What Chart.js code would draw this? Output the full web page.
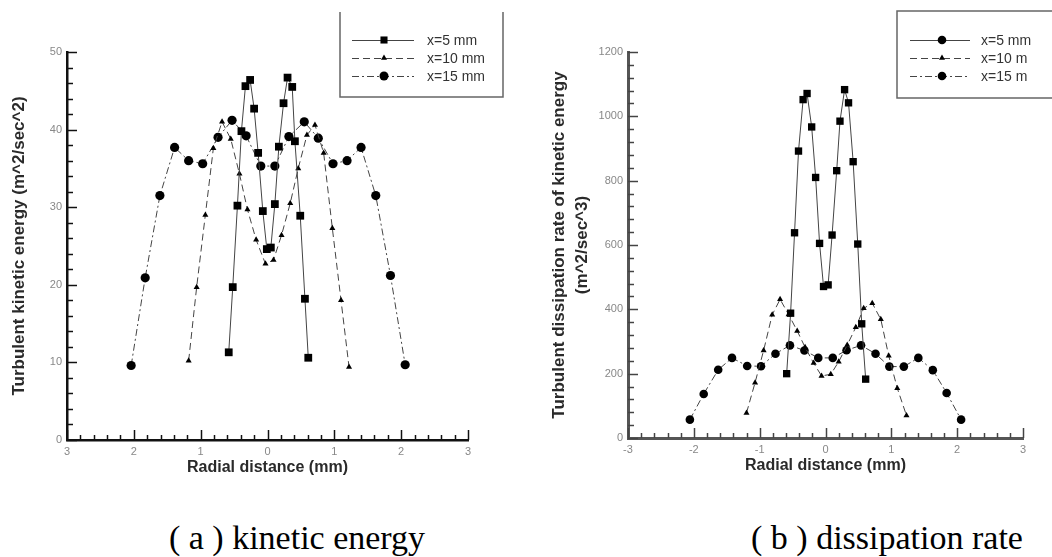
<!DOCTYPE html>
<html>
<head>
<meta charset="utf-8">
<script src="https://cdn.jsdelivr.net/npm/chart.js@4.4.1/dist/chart.umd.min.js"></script>
<style>
  body { margin: 0; background: #fff; }
  #page { position: relative; width: 1052px; height: 557px; overflow: hidden; }
  .box { position: absolute; top: 0; width: 526px; height: 500px; }
  .caption {
    position: absolute; top: 518px; line-height: 40px; white-space: nowrap;
    font-family: "Liberation Serif", "Times New Roman", serif; font-size: 34px; color: #000;
    transform: translateX(-50%);
  }
</style>
</head>
<body>
<div id="page">
  <div class="box" style="left:0"><canvas id="ke" width="526" height="500"></canvas></div>
  <div class="box" style="left:526px"><canvas id="dr" width="526" height="500"></canvas></div>
  <div class="caption" style="left:297px">( a ) kinetic energy</div>
  <div class="caption" style="left:887px">( b ) dissipation rate</div>
</div>
<script>
// (a) turbulent kinetic energy, m^2/sec^2
const keX5 = [-0.58, -0.52, -0.45, -0.39, -0.33, -0.26, -0.2, -0.14, -0.07, -0.01, 0.05, 0.11, 0.17, 0.24, 0.3, 0.37, 0.41, 0.49, 0.56, 0.61];
const keY5 = [11.3, 19.7, 30.2, 39.8, 45.6, 46.4, 42.7, 37.0, 29.5, 24.6, 24.8, 30.4, 37.8, 43.4, 46.7, 45.5, 38.5, 28.9, 18.2, 10.6];
const keX10 = [-1.18, -1.06, -0.93, -0.81, -0.68, -0.55, -0.42, -0.3, -0.17, -0.03, 0.09, 0.21, 0.34, 0.46, 0.59, 0.71, 0.84, 0.97, 1.1, 1.22];
const keY10 = [10.2, 19.7, 29.0, 37.6, 41.0, 38.8, 34.3, 29.7, 25.8, 22.7, 23.2, 26.4, 30.5, 35.0, 39.3, 40.6, 37.0, 27.3, 18.0, 9.4];
const keX15 = [-2.04, -1.83, -1.61, -1.39, -1.18, -0.97, -0.74, -0.53, -0.32, -0.1, 0.11, 0.32, 0.55, 0.76, 0.98, 1.19, 1.4, 1.62, 1.84, 2.06];
const keY15 = [9.6, 20.9, 31.5, 37.7, 36.0, 35.6, 39.0, 41.2, 39.2, 35.3, 35.3, 39.1, 41.0, 38.9, 35.6, 36.0, 37.7, 31.5, 21.2, 9.7];
const keXTicks = ['3', '2', '1', '0', '1', '2', '3'];
const keYTicks = ['0', '10', '20', '30', '40', '50'];
const keLegend = ['x=5 mm', 'x=10 mm', 'x=15 mm'];

// (b) dissipation rate, m^2/sec^3
const drX5 = [-0.59, -0.53, -0.47, -0.41, -0.34, -0.28, -0.21, -0.15, -0.09, -0.03, 0.04, 0.1, 0.17, 0.22, 0.29, 0.35, 0.42, 0.49, 0.55, 0.61];
const drY5 = [200, 388, 638, 892, 1052, 1071, 967, 810, 605, 471, 476, 631, 831, 985, 1083, 1042, 859, 603, 355, 183];
const drX10 = [-1.2, -1.07, -0.94, -0.81, -0.69, -0.56, -0.43, -0.31, -0.18, -0.06, 0.08, 0.2, 0.33, 0.46, 0.58, 0.71, 0.84, 0.96, 1.09, 1.23];
const drY10 = [78, 172, 272, 383, 431, 384, 333, 282, 233, 193, 198, 237, 289, 344, 403, 419, 369, 256, 155, 70];
const drX15 = [-2.06, -1.85, -1.63, -1.42, -1.19, -0.98, -0.76, -0.54, -0.32, -0.11, 0.11, 0.32, 0.54, 0.76, 0.97, 1.19, 1.41, 1.63, 1.84, 2.06];
const drY15 = [57, 137, 212, 249, 224, 223, 262, 288, 272, 249, 249, 273, 288, 262, 222, 222, 249, 211, 140, 57];
const drXTicks = ['-3', '-2', '-1', '0', '1', '2', '3'];
const drYTicks = ['0', '200', '400', '600', '800', '1000', '1200'];
const drLegend = ['x=5 mm', 'x=10 m', 'x=15 m'];

const pts = (xs, ys) => xs.map((x, i) => ({ x: x, y: ys[i] }));

const LINE = '#444';
const DASH10 = [7, 4];
const DASH15 = [7, 3, 2, 3];

// axis ticks point into the plot, so draw them from the scales ourselves
const inwardTicks = {
  id: 'inwardTicks',
  beforeDatasetsDraw(chart, args, o) {
    const { ctx, chartArea, scales: { x, y } } = chart;
    ctx.save();
    ctx.strokeStyle = o.color;
    ctx.lineWidth = 1.5;
    for (let i = 0; x.min + i * o.xMinor <= x.max + 1e-9; i++) {
      const v = x.min + i * o.xMinor;
      const px = Math.round(x.getPixelForValue(v)) + 0.5;
      const len = i % o.xEvery === 0 ? 10 : 5;
      ctx.beginPath();
      ctx.moveTo(px, chartArea.bottom);
      ctx.lineTo(px, chartArea.bottom - len);
      ctx.stroke();
    }
    for (let i = 0; y.min + i * o.yMinor <= y.max + 1e-9; i++) {
      const v = y.min + i * o.yMinor;
      const py = Math.round(y.getPixelForValue(v)) + 0.5;
      const len = i % o.yEvery === 0 ? 10 : 6;
      ctx.beginPath();
      ctx.moveTo(chartArea.left, py);
      ctx.lineTo(chartArea.left + len, py);
      ctx.stroke();
    }
    ctx.restore();
  }
};

function marker(ctx, style, x, y, r) {
  ctx.beginPath();
  if (style === 'rect') {
    const s = r * Math.SQRT1_2;
    ctx.rect(x - s, y - s, 2 * s, 2 * s);
  } else if (style === 'triangle') {
    ctx.moveTo(x, y - r);
    ctx.lineTo(x + r * 0.866, y + r * 0.5);
    ctx.lineTo(x - r * 0.866, y + r * 0.5);
    ctx.closePath();
  } else {
    ctx.arc(x, y, r, 0, Math.PI * 2);
  }
  ctx.fill();
}

// legend box sitting above the top right corner of the plot
const boxLegend = {
  id: 'boxLegend',
  afterDraw(chart, args, o) {
    const ctx = chart.ctx;
    ctx.save();
    ctx.strokeStyle = '#666';
    ctx.lineWidth = 1.5;
    ctx.beginPath();
    if (o.open) {
      ctx.moveTo(o.box[0], o.box[1]);
      ctx.lineTo(o.box[0], o.box[3]);
      ctx.lineTo(o.box[2], o.box[3]);
      ctx.lineTo(o.box[2], o.box[1]);
    } else {
      ctx.rect(o.box[0], o.box[1], o.box[2] - o.box[0], o.box[3] - o.box[1]);
    }
    ctx.stroke();
    const dashes = [[], DASH10, DASH15];
    o.labels.forEach((txt, i) => {
      const yy = o.rows[i];
      ctx.strokeStyle = LINE;
      ctx.lineWidth = 1;
      ctx.setLineDash(dashes[i]);
      ctx.beginPath();
      ctx.moveTo(o.x0, yy + 0.5);
      ctx.lineTo(o.x1, yy + 0.5);
      ctx.stroke();
      ctx.setLineDash([]);
      ctx.fillStyle = '#000';
      marker(ctx, o.styles[i], o.xm, yy, o.radii[i]);
      ctx.fillStyle = '#333';
      ctx.font = '14px "Liberation Sans", Arial, sans-serif';
      ctx.textBaseline = 'middle';
      ctx.fillText(txt, o.xt, yy + 1);
    });
    ctx.restore();
  }
};

function series(label, data, style, r, dash) {
  return {
    label: label,
    data: data,
    borderColor: LINE,
    borderWidth: 1,
    borderDash: dash,
    pointStyle: style,
    pointRadius: r,
    pointBackgroundColor: '#000',
    pointBorderColor: '#000',
    pointBorderWidth: 0,
    tension: 0,
    fill: false
  };
}

function makeChart(id, cfg) {
  return new Chart(document.getElementById(id), {
    type: 'line',
    data: { datasets: cfg.datasets },
    options: {
      responsive: false,
      animation: false,
      layout: { padding: cfg.padding },
      plugins: {
        legend: { display: false },
        tooltip: { enabled: false },
        inwardTicks: cfg.ticks,
        boxLegend: cfg.legend
      },
      scales: {
        x: {
          type: 'linear',
          min: -3, max: 3,
          grid: { display: false, drawTicks: false },
          border: { display: true, color: cfg.axisColor, width: cfg.axisWidth },
          ticks: {
            stepSize: 1, padding: 5, color: '#888',
            font: { size: 11, family: '"Liberation Sans", Arial, sans-serif' },
            callback: (v) => cfg.xTicks[Math.round(v) + 3]
          },
          title: {
            display: true,
            text: 'Radial distance (mm)',
            color: '#2a2a2a',
            font: { size: 16, weight: 'bold', family: '"Liberation Sans", Arial, sans-serif' },
            padding: { top: 0, bottom: cfg.xTitlePad }
          },
          afterFit: (s) => { s.height = cfg.xHeight; }
        },
        y: {
          min: 0, max: cfg.yMax,
          grid: { display: false, drawTicks: false },
          border: { display: true, color: cfg.axisColor, width: cfg.axisWidth },
          ticks: {
            stepSize: cfg.yStep, padding: 5, color: '#888',
            font: { size: 11, family: '"Liberation Sans", Arial, sans-serif' },
            callback: (v, i) => cfg.yTicks[i]
          },
          title: {
            display: true,
            text: cfg.yTitle,
            color: '#2a2a2a',
            font: { size: 17, weight: 'bold', family: '"Liberation Sans", Arial, sans-serif', lineHeight: 1.35 },
            padding: { top: cfg.yTitlePad, bottom: 0 }
          },
          afterFit: (s) => { s.width = cfg.yWidth; }
        }
      }
    },
    plugins: [inwardTicks, boxLegend]
  });
}

makeChart('ke', {
  datasets: [
    series(keLegend[0], pts(keX5, keY5), 'rect', 5.5, []),
    series(keLegend[1], pts(keX10, keY10), 'triangle', 3.5, DASH10),
    series(keLegend[2], pts(keX15, keY15), 'circle', 4.6, DASH15)
  ],
  padding: { left: 0, right: 58, top: 52, bottom: 0 },
  xHeight: 60, yWidth: 67,
  xTitlePad: 23, yTitlePad: 8,
  yMax: 50, yStep: 10,
  xTicks: keXTicks, yTicks: keYTicks,
  yTitle: 'Turbulent kinetic energy (m^2/sec^2)',
  axisColor: '#111', axisWidth: 2.5,
  ticks: { color: '#111', xMinor: 0.2, xEvery: 5, yMinor: 2, yEvery: 5 },
  legend: {
    box: [340, 12, 503, 97], open: true,
    x0: 352, x1: 414, xm: 384, xt: 427,
    rows: [40, 58, 76],
    labels: keLegend,
    styles: ['rect', 'triangle', 'circle'],
    radii: [5, 3.5, 4.5]
  }
});

makeChart('dr', {
  datasets: [
    series(drLegend[0], pts(drX5, drY5), 'rect', 5.2, []),
    series(drLegend[1], pts(drX10, drY10), 'triangle', 3.5, DASH10),
    series(drLegend[2], pts(drX15, drY15), 'circle', 4.3, DASH15)
  ],
  padding: { left: 0, right: 29, top: 52, bottom: 0 },
  xHeight: 62, yWidth: 102,
  xTitlePad: 25, yTitlePad: 22,
  yMax: 1200, yStep: 200,
  xTicks: drXTicks, yTicks: drYTicks,
  yTitle: ['Turbulent dissipation rate of kinetic energy', '(m^2/sec^3)'],
  axisColor: '#555', axisWidth: 3,
  ticks: { color: '#444', xMinor: 0.2, xEvery: 5, yMinor: 40, yEvery: 5 },
  legend: {
    box: [371, 11, 530, 98], open: false,
    x0: 384, x1: 444, xm: 416, xt: 455,
    rows: [40, 58, 76],
    labels: drLegend,
    styles: ['circle', 'triangle', 'circle'],
    radii: [4.3, 3.5, 4.3]
  }
});
</script>
</body>
</html>
